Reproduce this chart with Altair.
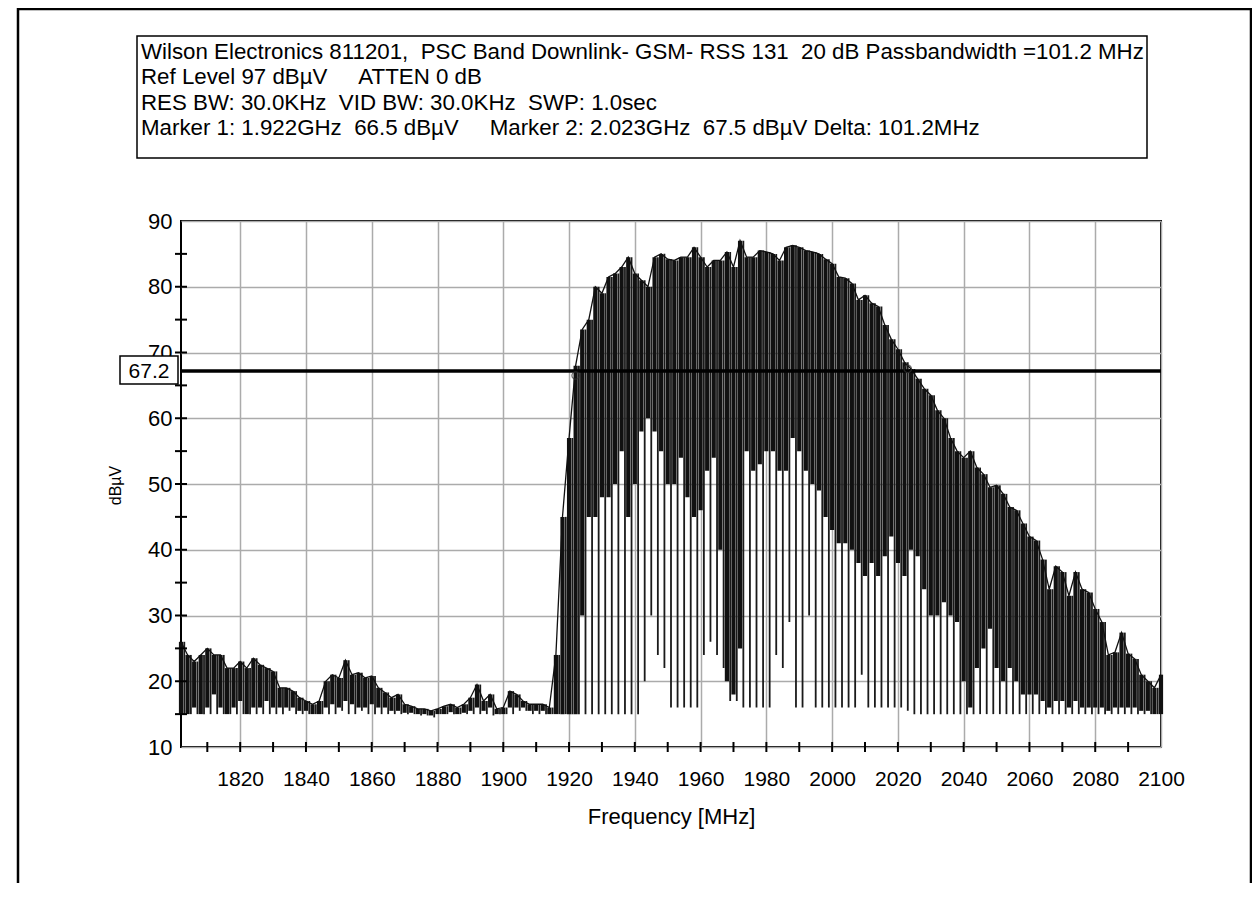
import altair as alt
import pandas as pd

# ---------------- data ----------------
freq_mhz = list(range(1802, 2101, 2))  # sampling grid, 2 MHz step

upper_dbuv = [
    26, 24, 23, 24, 25, 24, 24, 22, 22, 23,
    22, 23.5, 22.5, 22, 21.5, 19, 19, 18.5, 17.5, 17,
    16.5, 17, 20, 21, 20.5, 23.2, 21, 21.3, 20.5, 20.8,
    19, 18.3, 17.5, 18, 16.5, 16.2, 15.8, 15.8, 15.5, 15.8,
    16.2, 16.5, 16, 16.5, 17.5, 19.5, 17, 18, 15.8, 16,
    18.5, 18, 17, 16.5, 16.5, 16.5, 16, 24, 45, 57,
    68, 73.5, 75, 80, 79, 81.5, 82, 83, 84.5, 82,
    81, 80, 84.5, 85, 84.2, 84, 84.5, 84.5, 86, 84.5,
    83, 84, 84, 85.3, 83, 87, 84.5, 84.5, 85.5, 85.3,
    85, 84, 86, 86.3, 86, 85.5, 85.3, 85, 84.2, 83.5,
    81.5, 81.3, 80.5, 78, 78.7, 77.5, 77, 74.2, 72, 70.5,
    68.5, 67.5, 66, 64.5, 63.5, 61.2, 60, 57, 55, 54,
    55, 52.5, 51.5, 49.5, 49.8, 48.5, 46.5, 46, 44, 42,
    41.4, 38.5, 34, 37.5, 36.6, 33, 36.6, 34, 33.5, 31,
    29, 24, 24.4, 27.4, 24.2, 23.4, 21, 20, 19, 21,
]

band_low_dbuv = [
    15, 15, 16, 15, 16, 18, 16, 15, 16, 17,
    15, 16, 16, 17, 16, 16, 16, 16, 15.5, 15.5,
    15, 15, 16, 16.5, 16, 17, 16.5, 16, 16, 16.5,
    16, 16, 15.5, 15.5, 15.2, 15.2, 15, 15, 14.8, 15,
    15, 15.3, 15, 15.2, 15.5, 16, 15.5, 16, 15, 15,
    16, 16, 16, 15.5, 15.5, 15.5, 15, 15, 15, 15,
    15, 30, 45, 45, 48, 48, 50, 55, 45, 50,
    58, 60, 58, 55, 50, 50, 54, 48, 45, 46,
    52, 54, 40, 20, 18, 25, 55, 52, 53, 55,
    55, 52, 52, 57, 55, 52, 50, 49, 45, 43,
    41, 41, 40, 38, 36, 38, 36, 39, 42, 38,
    36, 40, 39, 34, 30, 30, 32, 30, 29, 20,
    16, 22, 25, 28, 22, 20, 22, 20, 18, 18,
    18, 17, 16, 17, 17, 16, 17, 16, 16, 16,
    16, 15.5, 16, 16, 16, 16, 15.5, 15.5, 15, 15,
]

dip_dbuv = [
    15, 15, 15, 15, 15, 15, 15, 15, 15, 15,
    15, 15, 15, 15, 15, 15, 15.5, 15, 15, 15,
    15, 15, 15, 15, 15.5, 15, 15, 15.5, 15, 15,
    15, 15, 15, 15, 15, 15, 14.8, 14.8, 14.5, 15,
    15, 15, 15, 15, 15, 15, 15, 14.8, 15, 15,
    15, 15.5, 15.5, 15, 15, 15, 15, 15, 15, 15,
    15, 15, 15, 15, 15, 15, 15, 15, 15, 15,
    20, 30, 24, 22, 16, 16, 16, 16, 16, 24,
    26, 24, 22, 17, 17, 16, 16, 16, 16, 16,
    24, 22, 29, 16, 16, 30, 16, 16, 16, 16,
    16, 16, 16, 21, 16, 16, 16, 16, 16, 16,
    15.5, 15, 15, 15, 15, 15, 15, 15, 15, 15,
    15, 15, 15, 15, 15, 15, 15, 15, 15, 15,
    15, 15, 15, 15, 15, 15, 15, 15, 15, 15,
    15, 15, 15, 15, 15, 15, 15, 15, 15, 15,
]

x_tick_labels = [1820, 1840, 1860, 1880, 1900, 1920, 1940, 1960, 1980,
                 2000, 2020, 2040, 2060, 2080, 2100]
y_tick_labels = [10, 20, 30, 40, 50, 60, 70, 80, 90]
x_minor_ticks = list(range(1810, 2100, 10))
y_minor_ticks = list(range(15, 90, 5))

ref_level = [67.2]
ref_label = "67.2"
marker_freq = [1922, 2023]
marker_level = [66.5, 67.5]

NB = "\u00a0"
header_lines = [
    "Wilson Electronics 811201," + NB * 2 + "PSC Band Downlink- GSM- RSS 131" + NB * 2
    + "20 dB Passbandwidth =101.2 MHz",
    "Ref Level 97 dBµV" + NB * 5 + "ATTEN 0 dB",
    "RES BW: 30.0KHz" + NB * 2 + "VID BW: 30.0KHz" + NB * 2 + "SWP: 1.0sec",
    "Marker 1: 1.922GHz" + NB * 2 + "66.5 dBµV" + NB * 5 + "Marker 2: 2.023GHz" + NB * 2
    + "67.5 dBµV Delta: 101.2MHz",
]

# ---------------- chart ----------------
W, H = 980, 526
FONT = "Liberation Sans"

df = pd.DataFrame({"f": freq_mhz, "upper": upper_dbuv, "low": band_low_dbuv, "dip": dip_dbuv})
df["f_needle"] = df["f"] + 1

xscale = alt.Scale(domain=[1802, 2100], nice=False, zero=False)
yscale = alt.Scale(domain=[10, 90], nice=False, zero=False)
one = pd.DataFrame({"a": [0]})

x_axis = alt.Axis(values=x_tick_labels, grid=True, ticks=False, domain=False, format="d",
                  labelOverlap=False, labelFlush=False, labelPadding=21,
                  title="Frequency [MHz]", titleY=69, titleBaseline="middle", titleFontSize=22)
y_axis = alt.Axis(values=y_tick_labels, grid=True, ticks=False, domain=False, format="d",
                  labelOverlap=False, labelFlush=False, labelPadding=9, labelFontSize=22,
                  title="dBµV", titleAngle=270, titleX=-66, titleY=264,
                  titleAlign="center", titleBaseline="middle", titleFontSize=16)

# invisible layer that carries the axes and grid
axes_layer = alt.Chart(df).mark_point(opacity=0).encode(
    x=alt.X("f:Q", scale=xscale, axis=x_axis),
    y=alt.Y("upper:Q", scale=yscale, axis=y_axis),
)

bars = alt.Chart(df).mark_rule(strokeWidth=4.2, color="#111111").encode(
    x=alt.X("f:Q", scale=xscale, title="Frequency [MHz]"),
    y=alt.Y("low:Q", scale=yscale, title="dBµV"),
    y2="upper:Q",
)
needles = alt.Chart(df).mark_rule(strokeWidth=1.8, color="#1a1a1a", clip=True).encode(
    x=alt.X("f_needle:Q", scale=xscale, title="Frequency [MHz]"),
    y=alt.Y("dip:Q", scale=yscale, title="dBµV"),
    y2="upper:Q",
)
trace_top = alt.Chart(df).mark_line(strokeWidth=1.3, color="#111111").encode(
    x=alt.X("f:Q", scale=xscale, title="Frequency [MHz]"),
    y=alt.Y("upper:Q", scale=yscale, title="dBµV"),
)

ref_line = alt.Chart(pd.DataFrame({"r": ref_level})).mark_rule(
    strokeWidth=3.5, color="black").encode(
    y=alt.Y("r:Q", scale=yscale, title="dBµV"))

markers = alt.Chart(pd.DataFrame({"f": marker_freq, "v": marker_level})).mark_point(
    shape="circle", filled=False, size=55, strokeWidth=1.3, color="#333333").encode(
    x=alt.X("f:Q", scale=xscale, title="Frequency [MHz]"),
    y=alt.Y("v:Q", scale=yscale, title="dBµV"))

xticks = alt.Chart(pd.DataFrame({"t": x_minor_ticks})).mark_rule(
    strokeWidth=2, color="black").encode(
    x=alt.X("t:Q", scale=xscale, title="Frequency [MHz]"),
    y=alt.value(H - 5), y2=alt.value(H + 5))
yticks = alt.Chart(pd.DataFrame({"t": y_minor_ticks})).mark_rule(
    strokeWidth=2, color="black").encode(
    y=alt.Y("t:Q", scale=yscale, title="dBµV"), x=alt.value(-6), x2=alt.value(6))

outer = alt.Chart(one).mark_rect(fillOpacity=0, stroke="black", strokeWidth=2.5).encode(
    x=alt.value(-163), x2=alt.value(1070), y=alt.value(-212), y2=alt.value(720))

header_box = alt.Chart(one).mark_rect(fill="white", stroke="black", strokeWidth=1.5).encode(
    x=alt.value(-44), x2=alt.value(966), y=alt.value(-185), y2=alt.value(-63))
header_text = alt.Chart(one).mark_text(
    text=header_lines, align="left", baseline="top", font=FONT, fontSize=22.3,
    lineHeight=25.3, color="black").encode(x=alt.value(-40), y=alt.value(-180))

label_box = alt.Chart(one).mark_rect(fill="white", stroke="black", strokeWidth=1.5).encode(
    x=alt.value(-61), x2=alt.value(-3), y=alt.value(135), y2=alt.value(163))
label_text = alt.Chart(one).mark_text(
    text=ref_label, align="center", baseline="middle", font=FONT, fontSize=21,
    color="black").encode(x=alt.value(-32), y=alt.value(151))

chart = alt.layer(
    axes_layer, bars, needles, trace_top, ref_line, markers, xticks, yticks,
    outer, header_box, header_text, label_box, label_text,
).properties(
    width=W, height=H,
    autosize=alt.AutoSizeParams(type="none"),
    padding={"left": 173, "top": 213, "right": 91, "bottom": 136},
    background="white",
).configure_view(
    stroke="black", strokeWidth=2
).configure_axis(
    gridColor="#ababab", gridWidth=1.5, labelFont=FONT, labelFontSize=21,
    labelColor="black", titleFont=FONT, titleFontWeight="normal", titleColor="black",
    tickSize=0,
)

chart.save("out.html", embed_options={"renderer": "svg", "actions": False})
